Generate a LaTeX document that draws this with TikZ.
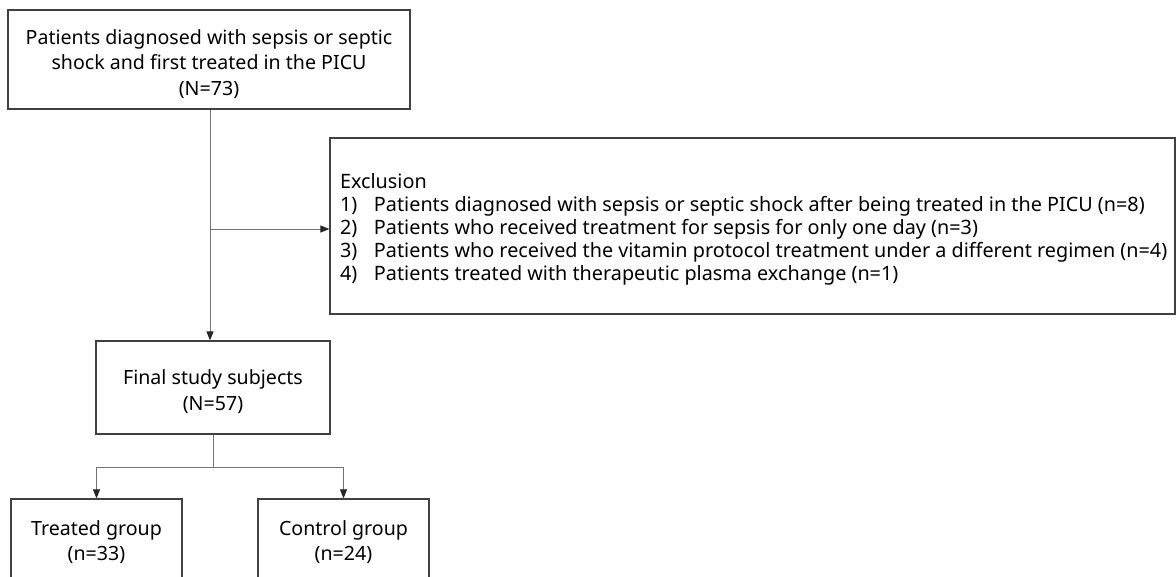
\documentclass[tikz,border=0pt]{standalone}
\usepackage{fontspec}
\setmainfont{Noto Sans}
\usetikzlibrary{arrows.meta}
\newcommand\lowtext[2]{\raisebox{-#1}[\height][\depth]{\begin{tabular}{@{}c@{}}#2\end{tabular}}}
\newcommand\exitem[2]{\makebox[\linewidth][l]{\makebox[34pt][l]{#1}#2}}
\begin{document}
\begin{tikzpicture}[x=1pt,y=-1pt,
  box/.style={draw=black!75,line width=1.2pt,rectangle,inner sep=0pt,align=center,
    font=\fontsize{19.6}{25.5}\selectfont},
  conn/.style={draw=black!55,line width=1pt},
  arr/.style={conn,-{Triangle[length=9pt,width=7pt,color=black!85]}}]
\useasboundingbox (0,0) rectangle (1176,576);
\fill[white] (0,0) rectangle (1176,576);
\node[box,minimum width=402pt,minimum height=99pt] (top) at (209,59.5)
  {\lowtext{5pt}{Patients diagnosed with sepsis or septic\\shock and first treated in the PICU\\(N=73)}};
\node[box,minimum width=845pt,minimum height=176pt,
  font=\fontsize{19.8}{23}\selectfont] (excl) at (752.5,226)
  {\raisebox{-3pt}[\height][\depth]{\parbox{825pt}{\raggedright
   Exclusion\\
   \exitem{1)}{Patients diagnosed with sepsis or septic shock after being treated in the PICU (n=8)}\\
   \exitem{2)}{Patients who received treatment for sepsis for only one day (n=3)}\\
   \exitem{3)}{Patients who received the vitamin protocol treatment under a different regimen (n=4)}\\
   \exitem{4)}{Patients treated with therapeutic plasma exchange (n=1)}}}};
\node[box,minimum width=234pt,minimum height=93pt] (final) at (213,387.5)
  {\lowtext{5pt}{Final study subjects\\(N=57)}};
\node[box,minimum width=171pt,minimum height=85pt] (treated) at (96.5,541.5)
  {\lowtext{1.5pt}{Treated group\\(n=33)}};
\node[box,minimum width=171pt,minimum height=85pt] (control) at (343.5,541.5)
  {\lowtext{1.5pt}{Control group\\(n=24)}};
\coordinate (j1) at (210,229);
\coordinate (j2) at (213,467);
\draw[arr] (top.south -| j1) -- (final.north -| j1);
\draw[arr] (j1) -- (j1 -| excl.west);
\draw[conn] (final.south) -- (j2);
\draw[arr] (j2) -| (treated.north);
\draw[arr] (j2) -| (control.north);
\end{tikzpicture}
\end{document}
